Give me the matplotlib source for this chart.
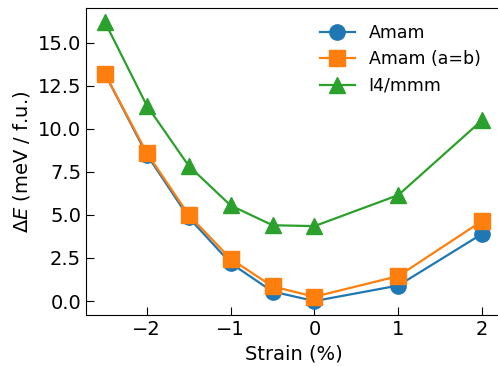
import matplotlib
matplotlib.use("Agg")
import matplotlib.pyplot as plt

strain = [-2.5, -2, -1.5, -1, -0.5, 0, 1, 2]
amam = [13.2, 8.5, 4.85, 2.2, 0.55, 0.0, 0.9, 3.9]
amam_ab = [13.2, 8.6, 5.0, 2.45, 0.85, 0.25, 1.45, 4.65]
i4mmm = [16.2, 11.35, 7.85, 5.55, 4.4, 4.35, 6.15, 10.5]

plt.rcParams['font.size'] = 14
fig = plt.figure(figsize=(4.98, 3.66), dpi=100)
ax = fig.add_axes([86/498, 51/366, (501-86)/498, (315-8)/366])
ax.plot(strain, amam, '-o', color='#1f77b4', ms=11, lw=1.6, label='Amam')
ax.plot(strain, amam_ab, '-s', color='#ff7f0e', ms=11, lw=1.6, label='Amam (a=b)')
ax.plot(strain, i4mmm, '-^', color='#2ca02c', ms=11, lw=1.6, label='I4/mmm')
ax.set_xlabel('Strain (%)')
ax.set_ylabel(r'$\Delta E$ (meV / f.u.)')
ax.tick_params(direction='in', length=6)
ax.set_yticks([0, 2.5, 5, 7.5, 10, 12.5, 15])
ax.legend(frameon=False, loc='upper right', fontsize=12.5,
          bbox_to_anchor=(496/ (501-86) - 86/(501-86) + 0.0, 1.0))
fig.savefig('out.png', dpi=100)
